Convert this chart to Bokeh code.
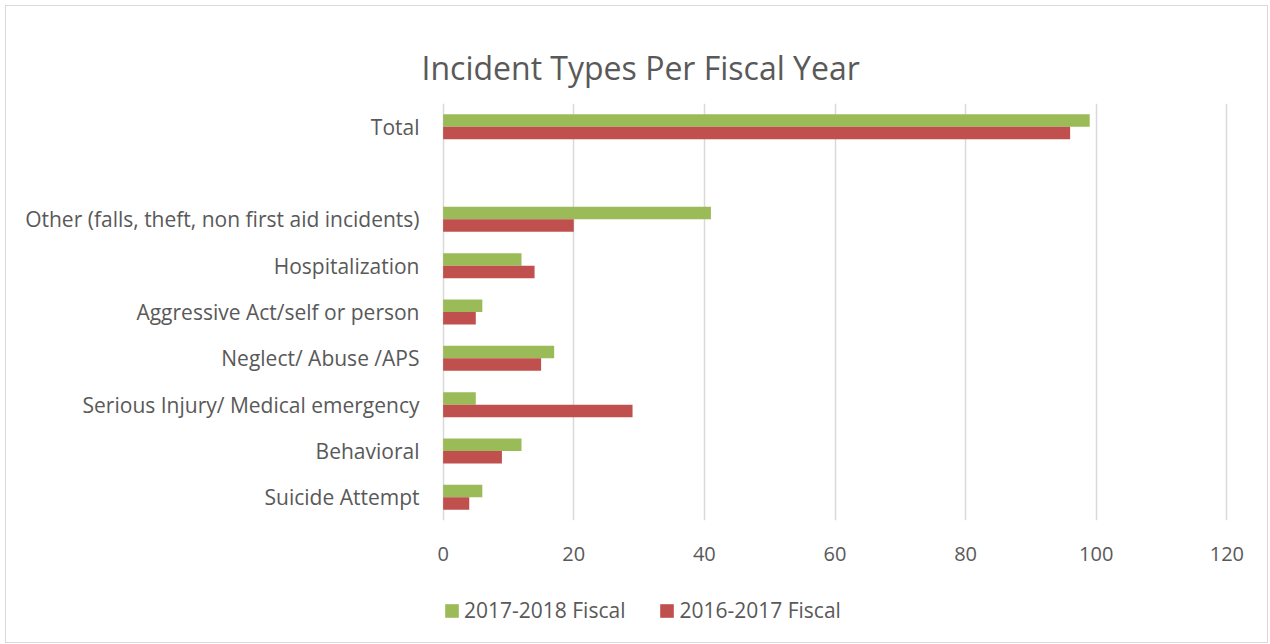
from bokeh.plotting import figure
from bokeh.layouts import column
from bokeh.models import FactorRange, Range1d, FixedTicker, Legend, LegendItem, ColumnDataSource
from bokeh.transform import dodge
from bokeh.embed import file_html
from bokeh.resources import INLINE

categories = ["Suicide Attempt", "Behavioral", "Serious Injury/ Medical emergency",
              "Neglect/ Abuse /APS", "Aggressive Act/self or person", "Hospitalization",
              "Other (falls, theft, non first aid incidents)", " ", "Total"]
fy_2017_2018 = [6, 12, 5, 17, 6, 12, 41, 0, 99]
fy_2016_2017 = [4, 9, 29, 15, 5, 14, 20, 0, 96]
series_names = ["2017-2018 Fiscal", "2016-2017 Fiscal"]
x_ticks = [0, 20, 40, 60, 80, 100, 120]
title_text = "Incident Types Per Fiscal Year"

GREEN = "#9BBB59"
RED = "#C0504D"
TXT = "#595959"
FONT = "Open Sans"

src = ColumnDataSource(dict(cat=categories, a=fy_2017_2018, b=fy_2016_2017))

p = figure(width=1261, height=580, y_range=FactorRange(*categories), x_range=Range1d(-0.25, 120.25),
           output_backend="svg", toolbar_location=None,
           min_border_left=435, min_border_right=39, min_border_top=97, min_border_bottom=66)
p.outline_line_color = None

r1 = p.hbar(y=dodge("cat", 0.135, range=p.y_range), right="a", left=0, height=0.27,
            source=src, fill_color=GREEN, line_color=None)
r2 = p.hbar(y=dodge("cat", -0.135, range=p.y_range), right="b", left=0, height=0.27,
            source=src, fill_color=RED, line_color=None)

p.title.text = title_text
p.title.align = "left"
p.title.offset = -20
p.title.text_font = FONT
p.title.text_font_size = "32px"
p.title.text_font_style = "normal"
p.title.text_color = TXT
p.title.standoff = 30

p.ygrid.grid_line_color = None
p.xgrid.grid_line_color = "#d9d9d9"
p.xgrid.grid_line_width = 1.5
p.xaxis.ticker = FixedTicker(ticks=x_ticks)

for ax in (p.xaxis, p.yaxis):
    ax.axis_line_color = None
    ax.major_tick_line_color = None
    ax.minor_tick_line_color = None
    ax.major_tick_out = 0
    ax.major_label_text_font = FONT
    ax.major_label_text_color = TXT
    ax.major_label_text_font_size = "20px"
p.yaxis.major_label_text_font_size = "21px"
p.yaxis.major_label_standoff = 22
p.xaxis.major_label_standoff = 26

# legend strip below the chart (its frame is aligned with the chart's frame)
lg = figure(width=1261, height=56, x_range=Range1d(0, 1), y_range=Range1d(0, 1),
            output_backend="svg", toolbar_location=None,
            min_border_left=0, min_border_right=0, min_border_top=0, min_border_bottom=0)
lg.axis.visible = False
lg.grid.visible = False
lg.outline_line_color = None
g1 = lg.quad(left=[5], right=[6], bottom=[5], top=[6], fill_color=GREEN, line_color=None)
g2 = lg.quad(left=[5], right=[6], bottom=[5], top=[6], fill_color=RED, line_color=None)
legend = Legend(items=[LegendItem(label=series_names[0], renderers=[g1]),
                       LegendItem(label=series_names[1], renderers=[g2])],
                location=(2, 18), orientation="horizontal",
                label_text_font=FONT, label_text_font_size="21px", label_text_color=TXT,
                glyph_width=17, glyph_height=17, label_standoff=4, spacing=33,
                padding=0, margin=0, border_line_color=None, background_fill_alpha=0)
lg.add_layout(legend, "center")

layout = column(p, lg, spacing=0,
                styles={"margin-left": "5px", "margin-top": "5px", "border": "1px solid #d9d9d9"})

open("out.html", "w").write(file_html(layout, INLINE))
